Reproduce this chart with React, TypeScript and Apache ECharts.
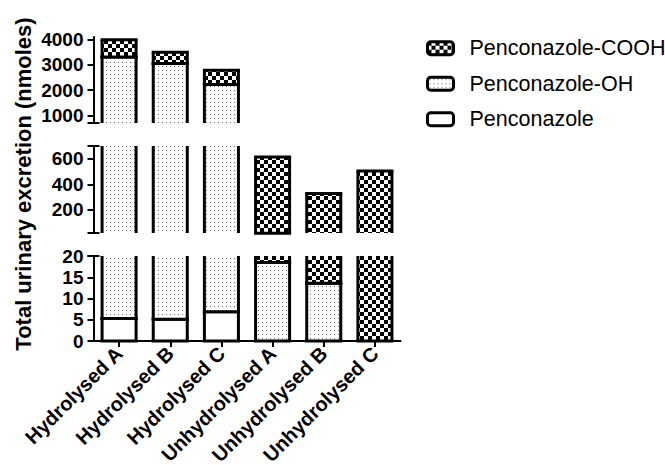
import React, { useEffect, useRef } from 'react';
import * as echarts from 'echarts';

const categories = ['Hydrolysed A', 'Hydrolysed B', 'Hydrolysed C', 'Unhydrolysed A', 'Unhydrolysed B', 'Unhydrolysed C'];
const penconazole = [5.3, 5.1, 6.9, 0, 0, 0];
const penconazoleOH = [3305, 3045, 2220, 18.5, 13.6, 0];
const penconazoleCOOH = [680, 450, 555, 596, 316, 505];
const seriesNames = ['Penconazole', 'Penconazole-OH', 'Penconazole-COOH'];
const legendOrder = ['Penconazole-COOH', 'Penconazole-OH', 'Penconazole'];
const yTitle = 'Total urinary excretion (nmoles)';

// broken axis: upper, middle, lower segments
const segMin = [700, 20, 0];
const segMax = [4100, 700, 20];
const segLabelTicks = [[1000, 2000, 3000, 4000], [200, 400, 600], [0, 5, 10, 15, 20]];
const segCaps = [[700], [20, 700], [20]];

const FONT = '"Liberation Sans", Arial, sans-serif';
const BAR_RATIO = 0.665;
const LW = 3;

function makeChecker() {
  const c = document.createElement('canvas');
  c.width = 8; c.height = 8;
  const ctx = c.getContext('2d')!;
  ctx.fillStyle = '#fff'; ctx.fillRect(0, 0, 8, 8);
  ctx.fillStyle = '#000'; ctx.fillRect(0, 0, 4, 4); ctx.fillRect(4, 4, 4, 4);
  return { image: c, repeat: 'repeat', imageWidth: 8, imageHeight: 8 };
}
function makeStipple() {
  const c = document.createElement('canvas');
  c.width = 4; c.height = 4;
  const ctx = c.getContext('2d')!;
  ctx.fillStyle = '#fff'; ctx.fillRect(0, 0, 4, 4);
  ctx.fillStyle = '#666'; ctx.fillRect(2, 2, 1, 1);
  return { image: c, repeat: 'repeat', imageWidth: 4, imageHeight: 4 };
}

export default function App() {
  const ref = useRef<HTMLDivElement>(null);
  useEffect(() => {
    const chart = echarts.init(ref.current!, null, { renderer: 'svg' });
    const fills: any[] = ['#fff', makeStipple(), makeChecker()];
    const amounts = [penconazole, penconazoleOH, penconazoleCOOH];
    // stacked bounds
    const bases: number[][] = [];
    const tops: number[][] = [];
    let acc = categories.map(() => 0);
    amounts.forEach((arr, k) => {
      bases[k] = acc.slice();
      acc = acc.map((v, i) => v + arr[i]);
      tops[k] = acc.slice();
    });

    const lineStyle = { stroke: '#000', lineWidth: LW };
    const makeRender = (fill: any) => (params: any, api: any) => {
      const idx = api.value(0);
      const lo = api.value(1);
      const hi = api.value(2);
      if (!(hi > lo)) return null;
      const cs = params.coordSys;
      const top = cs.y;
      const bottom = cs.y + cs.height;
      const pLo = api.coord([idx, lo]);
      const pHi = api.coord([idx, hi]);
      const y1 = Math.max(pHi[1], top);
      const y2 = Math.min(pLo[1], bottom);
      if (y2 - y1 <= 0.01) return null;
      const bw = api.size([1, 0])[0] * BAR_RATIO;
      const xl = pLo[0] - bw / 2;
      const xr = pLo[0] + bw / 2;
      const children: any[] = [
        { type: 'rect', shape: { x: xl, y: y1, width: bw, height: y2 - y1 }, style: { fill } },
        { type: 'line', shape: { x1: xl, y1: y1, x2: xl, y2: y2 }, style: lineStyle },
        { type: 'line', shape: { x1: xr, y1: y1, x2: xr, y2: y2 }, style: lineStyle },
      ];
      if (pHi[1] >= top - 0.5) {
        children.push({ type: 'line', shape: { x1: xl - LW / 2, y1: pHi[1], x2: xr + LW / 2, y2: pHi[1] }, style: lineStyle });
      }
      if (pLo[1] <= bottom + 0.5) {
        children.push({ type: 'line', shape: { x1: xl - LW / 2, y1: pLo[1], x2: xr + LW / 2, y2: pLo[1] }, style: lineStyle });
      }
      return { type: 'group', children };
    };

    const grids = [
      { left: 93.5, width: 307, top: 37, height: 86, outerBoundsMode: 'none' },
      { left: 93.5, width: 307, top: 146, height: 87, outerBoundsMode: 'none' },
      { left: 93.5, width: 307, top: 256, height: 85, outerBoundsMode: 'none' },
    ];

    const xAxes = grids.map((_, g) => ({
      type: 'category',
      gridIndex: g,
      data: categories,
      show: g === 2,
      axisLine: { show: g === 2, lineStyle: { color: '#000', width: 2 } },
      axisTick: { show: g === 2, alignWithLabel: true, length: 6, lineStyle: { color: '#000', width: 2 } },
      axisLabel: {
        show: g === 2, rotate: 45, margin: 9, interval: 0,
        color: '#000', fontSize: 20, fontWeight: 'bold', fontFamily: FONT,
      },
      splitLine: { show: false },
    }));

    const yAxesMain = grids.map((_, g) => ({
      type: 'value',
      gridIndex: g,
      position: 'left',
      min: segMin[g],
      max: segMax[g],
      splitLine: { show: false },
      axisLine: { show: true, lineStyle: { color: '#000', width: 2 } },
      axisTick: {
        show: true, length: 6, lineStyle: { color: '#000', width: 2 },
        customValues: [...segLabelTicks[g], ...segCaps[g]],
      },
      axisLabel: {
        show: true, margin: 10, color: '#000', fontSize: 19, fontWeight: 'bold', fontFamily: FONT,
        customValues: segLabelTicks[g],
        formatter: (v: number) => String(v),
      },
    }));
    const yAxesCaps = grids.map((_, g) => ({
      type: 'value',
      gridIndex: g,
      position: 'left',
      offset: 0,
      min: segMin[g],
      max: segMax[g],
      splitLine: { show: false },
      axisLine: { show: false },
      axisTick: {
        show: true, inside: true, length: 6, lineStyle: { color: '#000', width: 2 },
        customValues: segCaps[g],
      },
      axisLabel: { show: false },
    }));

    const series: any[] = [];
    grids.forEach((_, g) => {
      seriesNames.forEach((name, k) => {
        series.push({
          type: 'custom',
          name,
          xAxisIndex: g,
          yAxisIndex: g,
          encode: { x: 0, y: [1, 2] },
          itemStyle: { color: fills[k], borderColor: '#000', borderWidth: LW },
          data: categories.map((_, i) => [i, bases[k][i], tops[k][i]]),
          renderItem: makeRender(fills[k]),
        });
      });
    });

    chart.setOption({
      animation: false,
      backgroundColor: '#fff',
      grid: grids,
      xAxis: xAxes,
      yAxis: [...yAxesMain, ...yAxesCaps],
      legend: {
        orient: 'vertical',
        left: 426,
        top: 37.25,
        padding: 0,
        itemWidth: 26,
        itemHeight: 13,
        itemGap: 13.5,
        selectedMode: false,
        data: legendOrder.map((name) => ({
          name,
          icon: 'roundRect',
          itemStyle: { color: fills[seriesNames.indexOf(name)], borderColor: '#000', borderWidth: LW },
        })),
        textStyle: { fontSize: 21.5, color: '#000', fontFamily: FONT, padding: [0, 0, 0, 11] },
      },
      graphic: [
        {
          type: 'text',
          x: 23,
          y: 184,
          rotation: Math.PI / 2,
          style: {
            text: yTitle, fill: '#000', fontSize: 22, fontWeight: 'bold', fontFamily: FONT,
            align: 'center', verticalAlign: 'middle',
          },
        },
      ],
      series,
    });
    return () => chart.dispose();
  }, []);
  return <div ref={ref} style={{ position: 'absolute', left: 0, top: 0, width: 665, height: 465, background: '#fff' }} />;
}
